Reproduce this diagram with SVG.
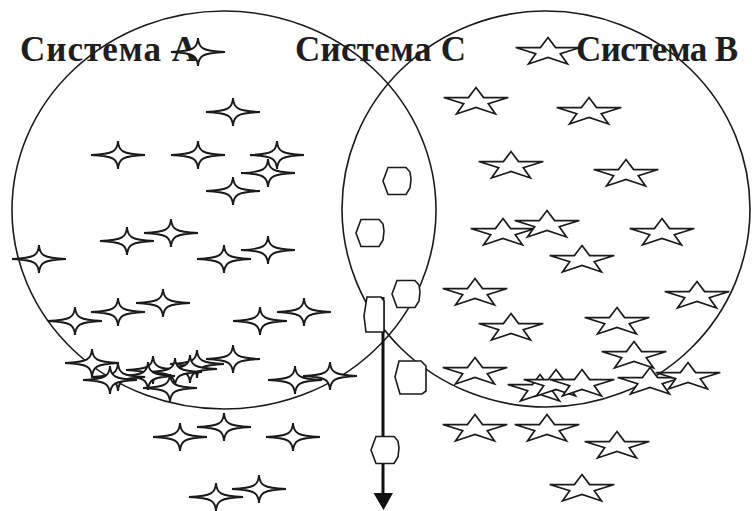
<svg xmlns="http://www.w3.org/2000/svg" xmlns:xlink="http://www.w3.org/1999/xlink" width="752" height="511" viewBox="0 0 752 511">
<style>
.ring{fill:none;stroke:#1a1a1a;stroke-width:1.6}
.lbl{font-family:"Liberation Serif","Times New Roman",serif;font-weight:bold;font-size:35px;fill:#1e1e1e}
.s4{fill:#fff;stroke:#1a1a1a;stroke-width:1.9;stroke-linejoin:miter}
.s5{fill:#fff;stroke:#1a1a1a;stroke-width:1.7;stroke-linejoin:miter}
.hx{fill:#fff;stroke:#1a1a1a;stroke-width:1.6}
.ax{stroke:#111;stroke-width:3;fill:none}
</style>
<defs>
<path id="p4" d="M0,-14 C0.6,-4 4,-0.8 27,0 C4,0.8 0.6,4 0,14 C-0.6,4 -4,0.8 -27,0 C-4,-0.8 -0.6,-4 0,-14Z"/>
<polygon id="p5" points="0,-14.4 7.6,-4.45 32.3,-4.45 12.3,1.7 19.5,12 0,5.5 -19.5,12 -12.3,1.7 -32.3,-4.45 -7.6,-4.45"/>
<polygon id="ph" points="-9,-13.5 9,-13.5 13,-9 14,-2 13,7 9,13.5 -9,13.5 -14,0"/>
</defs>
<g id="circleA"><ellipse class="ring" cx="224" cy="210" rx="212" ry="199"/></g>
<g id="circleB"><ellipse class="ring" cx="546" cy="209" rx="204" ry="198"/></g>
<g id="labels">
<text id="labelA" class="lbl" x="20" y="61" textLength="177">Система А</text>
<text id="labelC" class="lbl" x="295" y="61" textLength="171">Система С</text>
<text id="labelB" class="lbl" x="576" y="61" textLength="162">Система В</text>
</g>
<g id="connectors">
<line class="ax" x1="383" y1="297" x2="383" y2="496"/>
<polygon points="373.5,493 393,493 383.5,510" fill="#111"/>
</g>
<g id="hex1"><use href="#ph" class="hx" x="397" y="181"/></g>
<g id="hex2"><use href="#ph" class="hx" x="370" y="233"/></g>
<g id="hex3"><use href="#ph" class="hx" x="406" y="294"/></g>
<g id="hex4"><polygon class="hx" points="367,297 381,297 384,301 384,332 366,332 364,316"/></g>
<g id="hex5"><polygon class="hx" points="399,361 421,361 426,366 426,391 422,394 400,394 395,377"/></g>
<g id="hex6"><use href="#ph" class="hx" x="385" y="450"/></g>
<g id="starsA" class="s4">
<use href="#p4" x="198" y="52"/>
<use href="#p4" x="233" y="112"/>
<use href="#p4" x="118" y="155"/>
<use href="#p4" x="198" y="155"/>
<use href="#p4" x="277" y="155"/>
<use href="#p4" x="268" y="173"/>
<use href="#p4" x="233" y="191"/>
<use href="#p4" x="171" y="233"/>
<use href="#p4" x="127" y="241"/>
<use href="#p4" x="268" y="250"/>
<use href="#p4" x="39" y="259"/>
<use href="#p4" x="224" y="259"/>
<use href="#p4" x="163" y="303"/>
<use href="#p4" x="118" y="312"/>
<use href="#p4" x="304" y="312"/>
<use href="#p4" x="75" y="321"/>
<use href="#p4" x="260" y="321"/>
<use href="#p4" x="233" y="359"/>
<use href="#p4" x="197" y="364"/>
<use href="#p4" x="190" y="369"/>
<use href="#p4" x="153" y="370"/>
<use href="#p4" x="92" y="363"/>
<use href="#p4" x="175" y="372"/>
<use href="#p4" x="148" y="376"/>
<use href="#p4" x="118" y="377"/>
<use href="#p4" x="110" y="380"/>
<use href="#p4" x="170" y="388"/>
<use href="#p4" x="330" y="376"/>
<use href="#p4" x="295" y="380"/>
<use href="#p4" x="224" y="427"/>
<use href="#p4" x="180" y="437"/>
<use href="#p4" x="293" y="437"/>
<use href="#p4" x="259" y="489"/>
<use href="#p4" x="216" y="497"/>
</g>
<g id="starsB" class="s5">
<use href="#p5" x="548" y="52"/>
<use href="#p5" x="476" y="102"/>
<use href="#p5" x="589" y="112"/>
<use href="#p5" x="511" y="166"/>
<use href="#p5" x="626" y="174"/>
<use href="#p5" x="503" y="233"/>
<use href="#p5" x="547" y="225"/>
<use href="#p5" x="662" y="233"/>
<use href="#p5" x="582" y="260"/>
<use href="#p5" x="475" y="293"/>
<use href="#p5" x="697" y="296"/>
<use href="#p5" x="617" y="322"/>
<use href="#p5" x="511" y="328"/>
<use href="#p5" x="634" y="356"/>
<use href="#p5" x="475" y="372"/>
<use href="#p5" x="540" y="389"/>
<use href="#p5" x="556" y="384"/>
<use href="#p5" x="582" y="384"/>
<use href="#p5" x="650" y="382"/>
<use href="#p5" x="688" y="377"/>
<use href="#p5" x="475" y="429"/>
<use href="#p5" x="547" y="429"/>
<use href="#p5" x="617" y="446"/>
<use href="#p5" x="582" y="489"/>
</g>
</svg>
